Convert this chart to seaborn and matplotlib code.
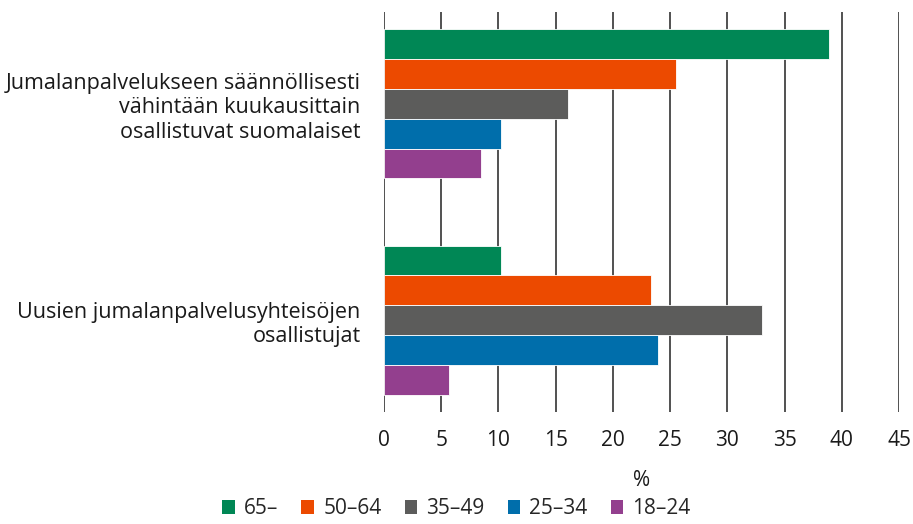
import matplotlib.pyplot as plt
import seaborn as sns
import pandas as pd
from matplotlib.patches import Patch

# data
categories = ['Jumalanpalvelukseen säännöllisesti\nvähintään kuukausittain\nosallistuvat suomalaiset',
              'Uusien jumalanpalvelusyhteisöjen\nosallistujat']
age_groups = ['65–', '50–64', '35–49', '25–34', '18–24']
vals_65 = [38.9, 10.2]
vals_50_64 = [25.5, 23.3]
vals_35_49 = [16.1, 33.0]
vals_25_34 = [10.2, 23.9]
vals_18_24 = [8.5, 5.7]
colors = ['#008755', '#ec4a00', '#5c5c5b', '#006eab', '#933f8e']

rows = []
for g, vals in zip(age_groups, [vals_65, vals_50_64, vals_35_49, vals_25_34, vals_18_24]):
    for c, v in zip(categories, vals):
        rows.append({'cat': c, 'age': g, 'val': v})
df = pd.DataFrame(rows)

sns.set_style('white')
plt.rcParams['font.family'] = ['Open Sans', 'DejaVu Sans']

fig = plt.figure(figsize=(9.13, 5.24), dpi=100)
ax = fig.add_axes([384/913, 112/524, 515/913, 400/524])

sns.barplot(data=df, y='cat', x='val', hue='age', order=categories, hue_order=age_groups,
            palette=colors, width=0.69, orient='h', ax=ax, legend=False,
            edgecolor='white', linewidth=0.6, saturation=1, zorder=3)

ax.set_xlim(0, 45)
ax.set_ylim(1.424, -0.424)
ax.set_xticks(range(0, 50, 5))
for x in range(0, 50, 5):
    ax.axvline(x, color='#222222', lw=1.1, zorder=1)
for s in ax.spines.values():
    s.set_visible(False)
ax.tick_params(axis='both', length=0, labelsize=15, colors='#1a1a1a')
ax.tick_params(axis='y', pad=17, labelsize=15.5)
ax.tick_params(axis='x', pad=13)
for lab in ax.get_yticklabels():
    lab.set_horizontalalignment('right')
    lab.set_multialignment('right')
ax.set_ylabel('')
ax.set_xlabel('%', fontsize=15, color='#1a1a1a', labelpad=14)

handles = [Patch(facecolor=c, edgecolor='none') for c in colors]
fig.legend(handles, age_groups, loc='lower center', bbox_to_anchor=(0.5, -0.027), ncol=5,
           frameon=False, fontsize=15, handlelength=0.6, handleheight=0.6,
           handletextpad=0.45, columnspacing=1.1)

fig.savefig('out.png', dpi=100)
